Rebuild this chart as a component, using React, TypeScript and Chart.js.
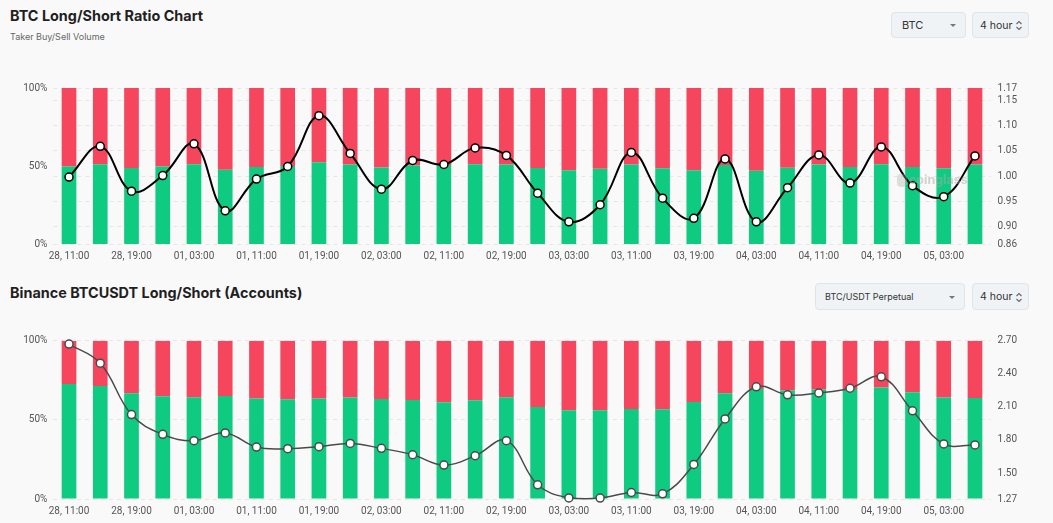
import React, { useEffect, useRef } from 'react';
import { Chart, registerables } from 'chart.js';
Chart.register(...registerables);

const categories = [
  '28, 11:00', '28, 15:00', '28, 19:00', '28, 23:00',
  '01, 03:00', '01, 07:00', '01, 11:00', '01, 15:00', '01, 19:00', '01, 23:00',
  '02, 03:00', '02, 07:00', '02, 11:00', '02, 15:00', '02, 19:00', '02, 23:00',
  '03, 03:00', '03, 07:00', '03, 11:00', '03, 15:00', '03, 19:00', '03, 23:00',
  '04, 03:00', '04, 07:00', '04, 11:00', '04, 15:00', '04, 19:00', '04, 23:00',
  '05, 03:00', '05, 07:00',
];

// Top chart: Taker Buy/Sell Volume
const takerLongPct = [49.6, 51.1, 48.7, 49.6, 51.1, 47.6, 49.4, 50.0, 52.4, 50.9, 49.1, 50.4, 50.6, 51.1, 50.9, 48.7, 47.2, 48.3, 50.9, 48.5, 47.2, 50.6, 47.0, 48.9, 50.9, 49.4, 51.1, 49.4, 48.5, 50.9];
const takerShortPct = [50.4, 48.9, 51.3, 50.4, 48.9, 52.4, 50.6, 50.0, 47.6, 49.1, 50.9, 49.6, 49.4, 48.9, 49.1, 51.3, 52.8, 51.7, 49.1, 51.5, 52.8, 49.4, 53.0, 51.1, 49.1, 50.6, 48.9, 50.6, 51.5, 49.1];
const takerRatio = [0.998, 1.059, 0.970, 1.001, 1.064, 0.931, 0.994, 1.019, 1.120, 1.045, 0.974, 1.031, 1.023, 1.056, 1.041, 0.966, 0.909, 0.943, 1.047, 0.956, 0.916, 1.034, 0.909, 0.977, 1.042, 0.986, 1.058, 0.981, 0.959, 1.040];
const takerRatioTicks = [0.865, 0.9, 0.95, 1.0, 1.05, 1.1, 1.15, 1.175];
const takerRatioTickLabels = ['0.86', '0.90', '0.95', '1.00', '1.05', '1.10', '1.15', '1.17'];

// Bottom chart: Binance BTCUSDT accounts
const accLongPct = [72.7, 71.4, 66.8, 64.9, 64.3, 65.1, 63.5, 63.0, 63.5, 64.1, 63.2, 62.6, 61.1, 62.4, 64.3, 58.1, 56.0, 56.0, 56.9, 56.7, 61.3, 66.8, 69.5, 68.7, 69.1, 69.5, 70.4, 67.4, 64.1, 63.8];
const accShortPct = [27.3, 28.6, 33.2, 35.1, 35.7, 34.9, 36.5, 37.0, 36.5, 35.9, 36.8, 37.4, 38.9, 37.6, 35.7, 41.9, 44.0, 44.0, 43.1, 43.3, 38.7, 33.2, 30.5, 31.3, 30.9, 30.5, 29.6, 32.6, 35.9, 36.2];
const accRatio = [2.669, 2.496, 2.030, 1.851, 1.794, 1.864, 1.736, 1.721, 1.739, 1.769, 1.724, 1.666, 1.573, 1.657, 1.794, 1.394, 1.275, 1.273, 1.324, 1.312, 1.578, 1.991, 2.282, 2.209, 2.227, 2.269, 2.373, 2.064, 1.764, 1.755];
const accRatioTicks = [1.265, 1.5, 1.8, 2.1, 2.4, 2.7];
const accRatioTickLabels = ['1.27', '1.50', '1.80', '2.10', '2.40', '2.70'];

const GREEN = '#0ecb81';
const RED = '#f6465d';
const FONT = 'Roboto, "Noto Sans", sans-serif';

type Props = {
  long: number[];
  short: number[];
  ratio: number[];
  ticks: number[];
  tickLabels: string[];
  lineColor: string;
  lineWidth: number;
  gridOnRight: boolean;
  padTop: number;
  height: number;
};

function RatioChart(p: Props) {
  const ref = useRef<HTMLCanvasElement>(null);
  useEffect(() => {
    const noPad = (s: any) => {
      s.paddingTop = 0;
      s.paddingBottom = 0;
    };
    const chart = new Chart(ref.current as HTMLCanvasElement, {
      type: 'bar',
      data: {
        labels: categories,
        datasets: [
          {
            type: 'line',
            data: p.ratio,
            yAxisID: 'y1',
            borderColor: p.lineColor,
            borderWidth: p.lineWidth,
            tension: 0.4,
            pointRadius: 4,
            pointBackgroundColor: '#ffffff',
            pointBorderColor: p.lineColor,
            pointBorderWidth: 1.5,
            order: 0,
            clip: false,
          } as any,
          {
            type: 'bar',
            data: p.long,
            yAxisID: 'y',
            backgroundColor: GREEN,
            stack: 's',
            order: 1,
            barPercentage: 0.94,
            categoryPercentage: 0.5,
          },
          {
            type: 'bar',
            data: p.short,
            yAxisID: 'y',
            backgroundColor: RED,
            stack: 's',
            order: 2,
            barPercentage: 0.94,
            categoryPercentage: 0.5,
          },
        ],
      },
      options: {
        responsive: false,
        animation: false,
        devicePixelRatio: 1,
        layout: { padding: { top: p.padTop, left: 0, right: 0, bottom: 0 } },
        plugins: { legend: { display: false }, tooltip: { enabled: false } },
        scales: {
          x: {
            stacked: true,
            grid: { display: false, drawTicks: false },
            border: { display: false },
            ticks: {
              autoSkip: false,
              maxRotation: 0,
              minRotation: 0,
              padding: 6,
              color: '#555',
              font: { family: FONT, size: 10 },
              callback: (_v: any, i: number) => (i % 2 === 0 ? categories[i] : ''),
            },
            afterFit: (s: any) => {
              s.height = 21;
              s.paddingLeft = 0;
              s.paddingRight = 0;
            },
          },
          y: {
            stacked: true,
            position: 'left',
            min: 0,
            max: 100,
            grid: {
              display: !p.gridOnRight,
              drawTicks: false,
              color: '#e6e6e6',
            },
            border: { display: false, dash: [4, 4] },
            ticks: {
              stepSize: 50,
              padding: 6,
              color: '#555',
              font: { family: FONT, size: 10 },
              callback: (v: any) => v + '%',
            },
            afterFit: (s: any) => {
              s.width = 53.4;
              noPad(s);
            },
          },
          y1: {
            position: 'right',
            min: p.ticks[0],
            max: p.ticks[p.ticks.length - 1],
            grid: {
              display: p.gridOnRight,
              drawTicks: false,
              color: '#e6e6e6',
            },
            border: { display: false, dash: [4, 4] },
            afterBuildTicks: (axis: any) => {
              axis.ticks = p.ticks.map((v) => ({ value: v }));
            },
            ticks: {
              padding: 7,
              color: '#555',
              font: { family: FONT, size: 10 },
              callback: (_v: any, i: number) => p.tickLabels[i],
            },
            afterFit: (s: any) => {
              s.width = 62.4;
              noPad(s);
            },
          },
        },
      } as any,
    });
    return () => chart.destroy();
  }, []);
  return <canvas ref={ref} width={1053} height={p.height} style={{ width: 1053, height: p.height, display: 'block' }} />;
}

const boxStyle: React.CSSProperties = {
  position: 'absolute',
  boxSizing: 'border-box',
  background: '#eff3f6',
  border: '1px solid #dde4ea',
  borderRadius: 4,
  color: '#333',
  display: 'flex',
  alignItems: 'center',
  fontFamily: 'Inter, sans-serif',
  whiteSpace: 'nowrap',
};

function Caret({ left }: { left: number }) {
  return (
    <div style={{ position: 'absolute', left, top: '50%', marginTop: -1, width: 0, height: 0, borderLeft: '3px solid transparent', borderRight: '3px solid transparent', borderTop: '3px solid #777' }} />
  );
}

function UpDown({ left, top }: { left: number; top: number }) {
  return (
    <svg style={{ position: 'absolute', left, top }} width="8" height="13" viewBox="0 0 8 13">
      <path d="M1.5 5 L4 2.5 L6.5 5" fill="none" stroke="#666" strokeWidth="1.1" />
      <path d="M1.5 8 L4 10.5 L6.5 8" fill="none" stroke="#666" strokeWidth="1.1" />
    </svg>
  );
}

export default function App() {
  return (
    <div style={{ position: 'fixed', left: 0, top: 0, width: 1053, height: 523, background: '#f9f9f9', overflow: 'hidden', fontFamily: 'Inter, sans-serif' }}>
      <div style={{ position: 'absolute', left: 10, top: 6, fontSize: 14.4, fontWeight: 700, color: '#1f1f1f', lineHeight: '20px' }}>BTC Long/Short Ratio Chart</div>
      <div style={{ position: 'absolute', left: 10, top: 31, fontSize: 9, color: '#666', lineHeight: '12px' }}>Taker Buy/Sell Volume</div>

      <div style={{ ...boxStyle, left: 891, top: 12, width: 75, height: 26 }}>
        <span style={{ position: 'absolute', left: 10, fontSize: 11 }}>BTC</span>
        <Caret left={58} />
      </div>
      <div style={{ ...boxStyle, left: 972, top: 12, width: 57, height: 26 }}>
        <span style={{ position: 'absolute', left: 7, fontSize: 10.5 }}>4 hour</span>
        <UpDown left={42} top={6} />
      </div>

      <div style={{ position: 'absolute', left: 0, top: 80 }}>
        <RatioChart long={takerLongPct} short={takerShortPct} ratio={takerRatio} ticks={takerRatioTicks} tickLabels={takerRatioTickLabels} lineColor="#000000" lineWidth={2} gridOnRight={true} padTop={8} height={185} />
      </div>
      <div style={{ position: 'absolute', left: 897, top: 174, width: 10, height: 13, borderRadius: 4, background: 'rgba(170,170,170,0.35)' }} />
      <div style={{ position: 'absolute', left: 909, top: 172, fontSize: 12.5, fontWeight: 700, lineHeight: '16px', color: 'rgba(170,170,170,0.5)', fontFamily: 'Inter, sans-serif' }}>coinglass</div>

      <div style={{ position: 'absolute', left: 10, top: 283, fontSize: 14.4, fontWeight: 700, color: '#1f1f1f', lineHeight: '20px' }}>Binance BTCUSDT Long/Short (Accounts)</div>

      <div style={{ ...boxStyle, left: 815, top: 283, width: 150, height: 27 }}>
        <span style={{ position: 'absolute', left: 9, fontSize: 9 }}>BTC/USDT Perpetual</span>
        <Caret left={133} />
      </div>
      <div style={{ ...boxStyle, left: 972, top: 283, width: 57, height: 27 }}>
        <span style={{ position: 'absolute', left: 7, fontSize: 10.5 }}>4 hour</span>
        <UpDown left={42} top={7} />
      </div>

      <div style={{ position: 'absolute', left: 0, top: 330 }}>
        <RatioChart long={accLongPct} short={accShortPct} ratio={accRatio} ticks={accRatioTicks} tickLabels={accRatioTickLabels} lineColor="#4a4a4a" lineWidth={1.5} gridOnRight={false} padTop={10.7} height={190} />
      </div>
    </div>
  );
}
